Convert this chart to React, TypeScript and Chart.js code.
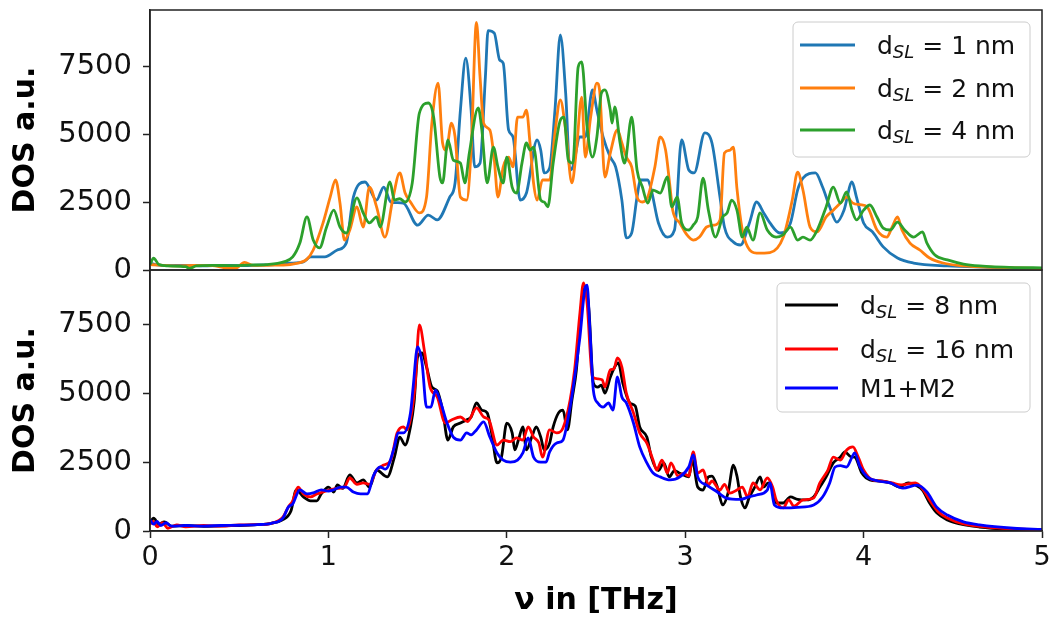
import React, { useEffect, useRef } from 'react';
import { Chart, registerables } from 'chart.js';

Chart.register(...registerables);

// ---------- data (frequency in THz, DOS in a.u.) ----------
const xTickValues = [0, 1, 2, 3, 4, 5];
const yTickValues = [0, 2500, 5000, 7500];
const X_MIN = 0;
const X_MAX = 5;
const TOP_Y_MAX = 9560;
const BOTTOM_Y_MAX = 9500;

const topLegendLabels = [' = 1 nm', ' = 2 nm', ' = 4 nm'];
const bottomLegendLabels = [' = 8 nm', ' = 16 nm', 'M1+M2'];

const dos1nm = [
  [0.00, 250], [0.03, 200], [0.10, 160], [0.20, 170], [0.30, 150], [0.40, 170], [0.50, 160], [0.60, 180],
  [0.70, 200], [0.78, 250], [0.86, 300], [0.90, 480], [0.98, 480], [1.05, 735], [1.10, 990], [1.14, 2680],
  [1.205, 3235], [1.27, 2570], [1.31, 3050], [1.35, 2500], [1.42, 2460], [1.50, 1650], [1.56, 2020], [1.61, 1840],
  [1.68, 2680], [1.71, 3200], [1.74, 5880], [1.77, 7790], [1.80, 5880], [1.82, 3790], [1.85, 3930], [1.88, 7100],
  [1.895, 8800], [1.93, 8710], [1.96, 7720], [1.98, 7600], [2.01, 5150], [2.035, 4890], [2.075, 2570], [2.11, 2830],
  [2.17, 4780], [2.19, 4410], [2.21, 3570], [2.24, 3750], [2.27, 5880], [2.30, 8640], [2.33, 6500], [2.354, 3680],
  [2.37, 3790], [2.41, 4890], [2.44, 4890], [2.48, 6620], [2.505, 5880], [2.54, 4890], [2.58, 4150], [2.61, 3790],
  [2.645, 2570], [2.67, 1180], [2.70, 1360], [2.73, 2680], [2.75, 3310], [2.79, 3310], [2.81, 2940], [2.85, 1730],
  [2.90, 1210], [2.94, 1470], [2.98, 4780], [3.02, 3680], [3.05, 3570], [3.11, 5040], [3.15, 4670], [3.195, 2680],
  [3.22, 1580], [3.27, 1030], [3.31, 920], [3.36, 1730], [3.40, 2500], [3.44, 2100], [3.475, 1730], [3.53, 1360],
  [3.59, 1730], [3.63, 2940], [3.66, 3380], [3.73, 3570], [3.77, 3050], [3.81, 2320], [3.85, 1760], [3.89, 2200],
  [3.935, 3235], [3.96, 2680], [4.00, 1730], [4.05, 1400], [4.11, 850], [4.19, 440], [4.28, 257], [4.47, 150],
  [4.70, 100], [5.00, 40],
];

const dos2nm = [
  [0.00, 200], [0.05, 180], [0.15, 150], [0.25, 170], [0.35, 160], [0.42, 80], [0.48, 70], [0.53, 280],
  [0.58, 170], [0.70, 180], [0.80, 220], [0.88, 400], [0.915, 735], [0.97, 1730], [1.01, 2680], [1.04, 3310],
  [1.065, 2460], [1.09, 1100], [1.12, 1470], [1.16, 2320], [1.195, 1580], [1.23, 3050], [1.27, 2320], [1.317, 1210],
  [1.36, 2570], [1.40, 3570], [1.43, 2830], [1.46, 2500], [1.51, 2100], [1.55, 2680], [1.58, 5400], [1.615, 6870],
  [1.64, 4670], [1.66, 4410], [1.69, 5400], [1.71, 4900], [1.74, 2680], [1.775, 2570], [1.80, 4410], [1.83, 9100],
  [1.85, 7100], [1.87, 5400], [1.905, 5150], [1.93, 4040], [1.95, 2680], [1.98, 3790], [2.01, 4150], [2.035, 3790],
  [2.06, 5620], [2.09, 5620], [2.11, 5880], [2.13, 4670], [2.15, 3200], [2.17, 2570], [2.20, 3310], [2.24, 3310],
  [2.27, 5040], [2.30, 6250], [2.33, 5150], [2.365, 3200], [2.39, 4410], [2.42, 6360], [2.44, 4150], [2.47, 5620],
  [2.505, 6870], [2.52, 6620], [2.55, 3420], [2.58, 4300], [2.62, 5150], [2.645, 4670], [2.67, 4150], [2.70, 3790],
  [2.73, 2680], [2.76, 2500], [2.79, 2680], [2.83, 3790], [2.86, 4890], [2.89, 4410], [2.915, 3050], [2.93, 2200],
  [2.97, 1730], [3.01, 1290], [3.045, 1100], [3.08, 1210], [3.12, 1580], [3.16, 1650], [3.195, 1840], [3.22, 4300],
  [3.25, 4400], [3.27, 4520], [3.29, 3000], [3.32, 1470], [3.35, 850], [3.40, 620], [3.475, 640], [3.55, 1210],
  [3.60, 2570], [3.63, 3600], [3.66, 2940], [3.70, 1580], [3.74, 1400], [3.79, 1950], [3.83, 2200], [3.87, 2460],
  [3.905, 2680], [3.94, 2460], [3.98, 2400], [4.02, 2320], [4.075, 1470], [4.13, 1210], [4.16, 1580], [4.19, 1950],
  [4.215, 1470], [4.26, 990], [4.315, 735], [4.37, 440], [4.445, 257], [4.56, 150], [4.74, 100], [5.00, 50],
];

const dos4nm = [
  [0.00, 200], [0.02, 440], [0.05, 200], [0.10, 150], [0.20, 120], [0.22, 60], [0.26, 150], [0.35, 170],
  [0.45, 160], [0.55, 180], [0.65, 200], [0.75, 300], [0.80, 480], [0.84, 990], [0.88, 1950], [0.915, 1100],
  [0.95, 810], [0.99, 1580], [1.03, 2200], [1.065, 1580], [1.10, 1360], [1.16, 2650], [1.195, 2100], [1.23, 1730],
  [1.27, 1950], [1.29, 1580], [1.345, 3235], [1.37, 2570], [1.40, 2620], [1.43, 2500], [1.47, 3200], [1.51, 5770],
  [1.56, 6140], [1.59, 5620], [1.625, 3420], [1.64, 3200], [1.67, 4780], [1.70, 4040], [1.74, 3930], [1.765, 3200],
  [1.79, 4300], [1.84, 5960], [1.86, 5150], [1.89, 3200], [1.925, 4520], [1.95, 3790], [1.98, 3200], [2.00, 4150],
  [2.03, 3050], [2.055, 2830], [2.085, 3930], [2.11, 4670], [2.13, 4410], [2.15, 4520], [2.19, 2570], [2.21, 2500],
  [2.23, 2320], [2.26, 3930], [2.30, 5510], [2.32, 5620], [2.345, 4040], [2.37, 3930], [2.40, 7460], [2.42, 7650],
  [2.45, 5260], [2.48, 4150], [2.505, 4890], [2.53, 6500], [2.55, 6620], [2.58, 5880], [2.59, 5400], [2.605, 6000],
  [2.635, 4670], [2.66, 3930], [2.70, 5620], [2.73, 3680], [2.76, 3050], [2.79, 2460], [2.82, 2940], [2.86, 2830],
  [2.90, 3420], [2.925, 2320], [2.955, 2680], [2.98, 1730], [3.02, 1470], [3.045, 1650], [3.07, 1950], [3.10, 3380],
  [3.13, 2200], [3.17, 1210], [3.21, 1950], [3.235, 2100], [3.26, 2570], [3.29, 2200], [3.32, 1210], [3.345, 1580],
  [3.38, 1100], [3.42, 2100], [3.46, 1470], [3.51, 1210], [3.55, 1300], [3.59, 1580], [3.63, 1100], [3.66, 1210],
  [3.70, 1100], [3.74, 1470], [3.79, 2320], [3.83, 3050], [3.87, 2460], [3.905, 2870], [3.935, 2200], [3.96, 1840],
  [4.00, 2200], [4.035, 2390], [4.075, 1950], [4.11, 1540], [4.15, 1470], [4.19, 1760], [4.23, 1470], [4.28, 1210],
  [4.33, 1400], [4.355, 990], [4.40, 550], [4.47, 370], [4.56, 220], [4.65, 150], [4.85, 90], [5.00, 80],
];

const dos8nm = [
  [0.00, 300], [0.02, 470], [0.05, 250], [0.08, 330], [0.12, 180], [0.20, 200], [0.30, 170], [0.40, 190],
  [0.50, 200], [0.60, 230], [0.68, 280], [0.74, 400], [0.79, 730], [0.82, 1500], [0.86, 1240], [0.90, 1100],
  [0.935, 1100], [0.96, 1350], [1.00, 1600], [1.03, 1420], [1.05, 1680], [1.08, 1550], [1.12, 2040], [1.16, 1750],
  [1.195, 1860], [1.23, 1600], [1.27, 2220], [1.33, 1970], [1.37, 2690], [1.40, 3420], [1.43, 3130], [1.46, 3790],
  [1.48, 4660], [1.50, 6330], [1.525, 6480], [1.55, 5970], [1.58, 5240], [1.61, 5100], [1.64, 4400], [1.67, 3310],
  [1.70, 3790], [1.74, 3930], [1.775, 4040], [1.80, 4150], [1.83, 4660], [1.86, 4400], [1.89, 4300], [1.915, 3570],
  [1.945, 2480], [1.97, 2690], [2.00, 3930], [2.03, 3570], [2.045, 2950], [2.065, 3310], [2.09, 3790], [2.11, 2950],
  [2.14, 3420], [2.165, 3790], [2.19, 3420], [2.21, 2950], [2.24, 3200], [2.26, 3790], [2.29, 4300], [2.315, 4400],
  [2.34, 3680], [2.365, 4770], [2.39, 5860], [2.42, 8300], [2.44, 8880], [2.46, 8080], [2.485, 5390], [2.51, 5240],
  [2.53, 5310], [2.55, 5020], [2.58, 5600], [2.605, 5970], [2.625, 6120], [2.65, 5390], [2.69, 4660], [2.72, 4550],
  [2.745, 3790], [2.785, 3420], [2.81, 2700], [2.85, 2200], [2.88, 2480], [2.91, 1970], [2.94, 2200], [2.97, 2100],
  [3.02, 1970], [3.04, 2580], [3.07, 1600], [3.10, 1490], [3.13, 1970], [3.15, 2000], [3.18, 1600], [3.21, 950],
  [3.24, 1380], [3.27, 2400], [3.29, 2000], [3.31, 1240], [3.335, 840], [3.36, 1240], [3.39, 1600], [3.42, 1970],
  [3.44, 1600], [3.465, 1750], [3.49, 1490], [3.51, 1020], [3.55, 1020], [3.59, 1240], [3.63, 1150], [3.68, 1130],
  [3.72, 1240], [3.755, 1600], [3.79, 1970], [3.83, 2480], [3.87, 2690], [3.895, 2880], [3.93, 2700], [3.95, 2690],
  [3.99, 2110], [4.035, 1860], [4.09, 1820], [4.15, 1750], [4.20, 1600], [4.25, 1750], [4.29, 1680], [4.33, 1490],
  [4.37, 1020], [4.41, 660], [4.47, 400], [4.54, 255], [4.65, 145], [4.80, 70], [5.00, 40],
];

const dos16nm = [
  [0.00, 250], [0.02, 350], [0.04, 150], [0.07, 300], [0.10, 100], [0.15, 220], [0.20, 150], [0.30, 200],
  [0.40, 180], [0.50, 220], [0.60, 230], [0.68, 280], [0.746, 510], [0.775, 870], [0.80, 1100], [0.83, 1600],
  [0.86, 1350], [0.90, 1240], [0.935, 1350], [0.97, 1420], [1.01, 1500], [1.05, 1550], [1.09, 1600], [1.12, 1930],
  [1.16, 1700], [1.195, 1750], [1.23, 1700], [1.27, 2220], [1.31, 2400], [1.35, 2580], [1.385, 3570], [1.42, 3790],
  [1.44, 3680], [1.485, 5240], [1.51, 7500], [1.54, 6480], [1.57, 5240], [1.61, 4880], [1.655, 3930], [1.69, 4040],
  [1.74, 4150], [1.78, 3980], [1.83, 4480], [1.87, 4150], [1.90, 4040], [1.945, 3130], [1.98, 3310], [2.02, 3250],
  [2.055, 3390], [2.09, 3310], [2.12, 3790], [2.15, 3420], [2.18, 3200], [2.20, 2690], [2.24, 3680], [2.28, 3570],
  [2.315, 3750], [2.355, 4770], [2.38, 5860], [2.41, 7940], [2.43, 9030], [2.45, 8300], [2.48, 5610], [2.51, 5540],
  [2.535, 5500], [2.55, 5240], [2.58, 5860], [2.60, 5900], [2.62, 6300], [2.645, 5970], [2.67, 5020], [2.71, 4300],
  [2.745, 3570], [2.785, 3200], [2.82, 2580], [2.84, 2220], [2.87, 2580], [2.90, 2110], [2.92, 2480], [2.96, 2000],
  [2.99, 2100], [3.02, 2000], [3.045, 2880], [3.07, 2110], [3.10, 2220], [3.13, 1680], [3.15, 1820], [3.195, 1490],
  [3.22, 1700], [3.25, 1380], [3.29, 1490], [3.32, 1600], [3.35, 1240], [3.38, 1750], [3.42, 1500], [3.46, 1930],
  [3.49, 1600], [3.51, 1130], [3.55, 840], [3.58, 1130], [3.61, 900], [3.66, 1130], [3.72, 1200], [3.755, 1750],
  [3.80, 2220], [3.83, 2690], [3.87, 2580], [3.905, 2950], [3.94, 3060], [3.97, 2690], [4.00, 2220], [4.05, 1860],
  [4.10, 1820], [4.16, 1750], [4.21, 1680], [4.29, 1750], [4.335, 1490], [4.37, 1130], [4.42, 690], [4.47, 470],
  [4.56, 255], [4.75, 110], [5.00, 40],
];

const dosM1M2 = [
  [0.00, 400], [0.02, 250], [0.04, 350], [0.06, 200], [0.09, 300], [0.12, 180], [0.20, 200], [0.30, 180],
  [0.40, 200], [0.50, 210], [0.60, 230], [0.68, 280], [0.746, 480], [0.775, 870], [0.80, 990], [0.84, 1500],
  [0.88, 1350], [0.92, 1400], [0.96, 1500], [1.00, 1450], [1.03, 1500], [1.07, 1600], [1.10, 1600], [1.14, 1420],
  [1.18, 1350], [1.22, 1350], [1.25, 1970], [1.29, 2330], [1.32, 2250], [1.37, 3060], [1.39, 3570], [1.42, 3570],
  [1.46, 4300], [1.475, 5240], [1.50, 6700], [1.525, 6120], [1.55, 4510], [1.575, 4510], [1.60, 5130], [1.625, 4770],
  [1.665, 3930], [1.70, 3420], [1.74, 3310], [1.775, 3570], [1.80, 3500], [1.83, 3680], [1.87, 3970], [1.905, 3420],
  [1.945, 2840], [1.98, 2580], [2.02, 2510], [2.06, 2580], [2.09, 2840], [2.12, 3390], [2.15, 2690], [2.19, 2510],
  [2.22, 2510], [2.24, 2880], [2.28, 3200], [2.315, 3310], [2.345, 4150], [2.37, 5130], [2.41, 7060], [2.44, 8880],
  [2.45, 8950], [2.465, 7430], [2.485, 5130], [2.51, 4660], [2.54, 4510], [2.57, 4660], [2.595, 4400], [2.62, 5610],
  [2.645, 4880], [2.67, 4660], [2.71, 3930], [2.745, 3060], [2.785, 2480], [2.82, 2110], [2.86, 1970], [2.915, 1860],
  [2.97, 1970], [3.02, 2330], [3.045, 2770], [3.07, 1970], [3.12, 1670], [3.18, 1420], [3.23, 1200], [3.31, 1150],
  [3.36, 1250], [3.40, 1310], [3.46, 1490], [3.475, 1750], [3.50, 950], [3.55, 840], [3.63, 860], [3.72, 950],
  [3.77, 1240], [3.81, 1750], [3.84, 2330], [3.87, 2380], [3.905, 2330], [3.935, 2690], [3.95, 2840], [3.98, 2330],
  [4.02, 1970], [4.08, 1820], [4.15, 1750], [4.22, 1560], [4.30, 1670], [4.355, 1420], [4.41, 870], [4.47, 580],
  [4.56, 330], [4.65, 220], [4.84, 100], [5.00, 60],
];

// ---------- styling ----------
const FONT = "'DejaVu Sans', 'Liberation Sans', sans-serif";
const PLOT_LEFT = 150;
const PLOT_RIGHT = 1042;
const PANEL_SPLIT = 270;
const PLOT_TOP = 10;
const PLOT_BOTTOM = 531;
const W = 1059;
const H = 621;

type Item = { color: string; sub: boolean; text: string };

function toPoints(arr: number[][]) {
  return arr.map(([x, y]) => ({ x, y }));
}

function line(data: number[][], color: string, order: number) {
  return {
    data: toPoints(data),
    borderColor: color,
    backgroundColor: color,
    borderWidth: 2.8,
    pointRadius: 0,
    fill: false,
    cubicInterpolationMode: 'monotone' as const,
    order,
  };
}

function legendPlugin(id: string, box: any, items: Item[]) {
  return {
    id,
    afterDatasetsDraw(chart: any) {
      const ctx = chart.ctx as CanvasRenderingContext2D;
      ctx.save();
      ctx.beginPath();
      if ((ctx as any).roundRect) (ctx as any).roundRect(box.x, box.y, box.w, box.h, 5);
      else ctx.rect(box.x, box.y, box.w, box.h);
      ctx.fillStyle = 'rgba(255,255,255,0.8)';
      ctx.fill();
      ctx.strokeStyle = '#cccccc';
      ctx.lineWidth = 1;
      ctx.stroke();
      items.forEach((it, i) => {
        const ry = box.rows[i];
        ctx.beginPath();
        ctx.moveTo(box.lineX0, ry);
        ctx.lineTo(box.lineX1, ry);
        ctx.strokeStyle = it.color;
        ctx.lineWidth = 2.8;
        ctx.stroke();
        ctx.fillStyle = '#111';
        ctx.textAlign = 'left';
        ctx.textBaseline = 'alphabetic';
        const base = ry + 9;
        let x = box.textX;
        ctx.font = `25px ${FONT}`;
        if (it.sub) {
          ctx.fillText('d', x, base);
          x += ctx.measureText('d').width;
          ctx.font = `italic 18px ${FONT}`;
          ctx.fillText('SL', x, base + 4);
          x += ctx.measureText('SL').width;
          ctx.font = `25px ${FONT}`;
        }
        ctx.fillText(it.text, x, base);
      });
      ctx.restore();
    },
  };
}

const framePlugin = {
  id: 'frame',
  afterDatasetsDraw(chart: any) {
    const { ctx, chartArea } = chart;
    ctx.save();
    ctx.strokeStyle = '#222';
    ctx.lineWidth = 1.5;
    ctx.strokeRect(chartArea.left, chartArea.top, chartArea.right - chartArea.left, chartArea.bottom - chartArea.top);
    ctx.restore();
  },
};

function yScale(max: number) {
  return {
    type: 'linear' as const,
    min: 0,
    max,
    afterFit: (s: any) => {
      s.width = PLOT_LEFT;
      s.paddingTop = 0;
      s.paddingBottom = 0;
    },
    afterBuildTicks: (s: any) => {
      s.ticks = yTickValues.map((v) => ({ value: v }));
    },
    ticks: {
      callback: (v: any) => String(v),
      font: { family: FONT, size: 29 },
      color: '#111',
      padding: 11,
    },
    grid: { drawOnChartArea: false, tickLength: 7, tickWidth: 1.5, tickColor: '#222' },
    border: { display: true, color: '#222', width: 1.5 },
    title: {
      display: true,
      text: 'DOS a.u.',
      color: '#000',
      font: { family: FONT, size: 30, weight: 'bold' as const },
      padding: { top: 8, bottom: 0 },
    },
  };
}

function topConfig(): any {
  const items: Item[] = [
    { color: '#1f77b4', sub: true, text: topLegendLabels[0] },
    { color: '#ff7f0e', sub: true, text: topLegendLabels[1] },
    { color: '#2ca02c', sub: true, text: topLegendLabels[2] },
  ];
  return {
    type: 'line',
    data: {
      datasets: [
        line(dos1nm, '#1f77b4', 3),
        line(dos2nm, '#ff7f0e', 2),
        line(dos4nm, '#2ca02c', 1),
      ],
    },
    options: {
      responsive: false,
      animation: false,
      devicePixelRatio: 1,
      layout: { autoPadding: false, padding: { left: 0, right: W - PLOT_RIGHT, top: PLOT_TOP, bottom: H - PANEL_SPLIT } },
      scales: {
        x: { type: 'linear', min: X_MIN, max: X_MAX, display: false },
        y: yScale(TOP_Y_MAX),
      },
      plugins: { legend: { display: false }, tooltip: { enabled: false } },
    },
    plugins: [
      framePlugin,
      legendPlugin('legendTop', { x: 793, y: 22, w: 237, h: 135, lineX0: 800, lineX1: 855, textX: 877, rows: [45, 88, 130] }, items),
    ],
  };
}

function bottomConfig(): any {
  const items: Item[] = [
    { color: '#000000', sub: true, text: bottomLegendLabels[0] },
    { color: '#ff0000', sub: true, text: bottomLegendLabels[1] },
    { color: '#0000ff', sub: false, text: bottomLegendLabels[2] },
  ];
  return {
    type: 'line',
    data: {
      datasets: [
        line(dos8nm, '#000000', 3),
        line(dos16nm, '#ff0000', 2),
        line(dosM1M2, '#0000ff', 1),
      ],
    },
    options: {
      responsive: false,
      animation: false,
      devicePixelRatio: 1,
      layout: { autoPadding: false, padding: { left: 0, right: W - PLOT_RIGHT, top: PANEL_SPLIT, bottom: 0 } },
      scales: {
        x: {
          type: 'linear',
          min: X_MIN,
          max: X_MAX,
          afterFit: (s: any) => {
            s.height = H - PLOT_BOTTOM;
            s.paddingLeft = 0;
            s.paddingRight = 0;
          },
          afterBuildTicks: (s: any) => {
            s.ticks = xTickValues.map((v) => ({ value: v }));
          },
          ticks: {
            callback: (v: any) => String(v),
            font: { family: FONT, size: 27 },
            color: '#111',
            padding: 4,
            maxRotation: 0,
            autoSkip: false,
          },
          grid: { drawOnChartArea: false, tickLength: 7, tickWidth: 1.5, tickColor: '#222' },
          border: { display: true, color: '#222', width: 1.5 },
          title: {
            display: true,
            text: 'ν in [THz]',
            color: '#000',
            font: { family: FONT, size: 30, weight: 'bold' },
            padding: { top: 0, bottom: 2 },
          },
        },
        y: yScale(BOTTOM_Y_MAX),
      },
      plugins: { legend: { display: false }, tooltip: { enabled: false } },
    },
    plugins: [
      framePlugin,
      legendPlugin('legendBottom', { x: 777, y: 283, w: 253, h: 129, lineX0: 785, lineX1: 838, textX: 860, rows: [305, 349, 388] }, items),
    ],
  };
}

export default function App() {
  const topRef = useRef<HTMLCanvasElement>(null);
  const bottomRef = useRef<HTMLCanvasElement>(null);

  useEffect(() => {
    if (!topRef.current || !bottomRef.current) return;
    const bottom = new Chart(bottomRef.current, bottomConfig());
    const top = new Chart(topRef.current, topConfig());
    return () => {
      top.destroy();
      bottom.destroy();
    };
  }, []);

  return (
    <div style={{ position: 'absolute', left: 0, top: 0, width: W, height: H, background: '#ffffff' }}>
      <canvas ref={bottomRef} width={W} height={H} style={{ position: 'absolute', left: 0, top: 0 }} />
      <canvas ref={topRef} width={W} height={H} style={{ position: 'absolute', left: 0, top: 0 }} />
    </div>
  );
}
